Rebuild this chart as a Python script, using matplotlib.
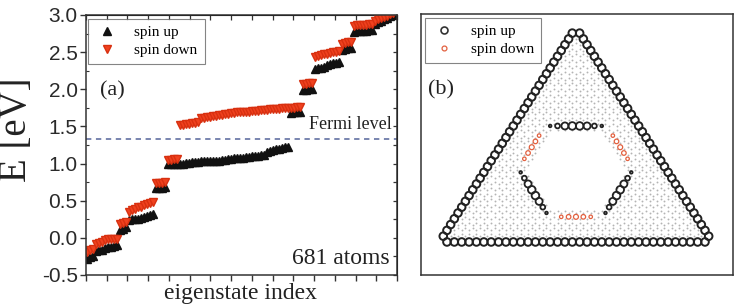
import numpy as np
import matplotlib
matplotlib.use("Agg")
import matplotlib.pyplot as plt
from matplotlib.lines import Line2D

# ---- panel (a): eigenvalues near the Fermi level ----
spin_up = [-0.28, -0.26, -0.24,
           -0.18, -0.17, -0.16,
           -0.13, -0.12, -0.12, -0.11, -0.10,
           0.10, 0.12, 0.15,
           0.24, 0.25, 0.25, 0.26, 0.27, 0.28,
           0.30, 0.31, 0.32,
           0.67, 0.67, 0.67, 0.68,
           0.99, 0.99, 1.00, 1.00,
           1.00, 1.00, 1.01, 1.01, 1.02, 1.02, 1.02, 1.03, 1.03, 1.03,
           1.03, 1.04, 1.04, 1.04, 1.05, 1.05, 1.06, 1.06, 1.07, 1.07,
           1.08, 1.08, 1.09, 1.09, 1.10, 1.10, 1.10, 1.11, 1.11,
           1.16, 1.17, 1.18, 1.19, 1.20, 1.21, 1.22, 1.22,
           1.68, 1.69, 1.69, 1.70,
           1.99, 1.99, 2.00, 2.00,
           2.27, 2.28, 2.29, 2.30,
           2.33, 2.34, 2.35, 2.36, 2.37,
           2.53, 2.54, 2.55, 2.56,
           2.77, 2.78, 2.78, 2.79, 2.79, 2.80, 2.80,
           2.88, 2.90, 2.92, 2.94, 2.96, 2.98, 3.00, 3.02]
spin_down = [-0.19, -0.17, -0.15,
             -0.08, -0.07, -0.06,
             -0.03, -0.02, -0.02, -0.01, -0.01,
             0.19, 0.20, 0.22,
             0.35, 0.37, 0.39, 0.41, 0.42, 0.44,
             0.46, 0.47, 0.48,
             0.74, 0.74, 0.74, 0.75,
             1.05, 1.05, 1.06, 1.06,
             1.52, 1.52, 1.53, 1.53, 1.54, 1.55, 1.56, 1.62, 1.62, 1.63,
             1.63, 1.64, 1.64, 1.65, 1.66, 1.67, 1.67, 1.68, 1.68, 1.69,
             1.69, 1.70, 1.70, 1.70, 1.71, 1.71, 1.71, 1.72, 1.72,
             1.72, 1.73, 1.73, 1.74, 1.74, 1.75, 1.75, 1.75,
             1.75, 1.75, 1.76, 1.76,
             2.07, 2.07, 2.08, 2.08,
             2.44, 2.45, 2.46, 2.47,
             2.48, 2.49, 2.50, 2.50, 2.51,
             2.61, 2.62, 2.63, 2.64,
             2.85, 2.86, 2.86, 2.87, 2.87, 2.88, 2.88,
             2.92, 2.94, 2.96, 2.97, 2.99, 3.01, 3.03, 3.05]
fermi_level = 1.326
n_atoms_label = "681 atoms"

# ---- panel (b): spin density on the triangular flake ----
n_side = 38                   # B sites per edge before the corners are cut
ring_row = 20                 # B row holding the top (spin up) side of the inner ring
ring_up_x = [15, 16, 17, 18, 19, 20, 21, 22]
ring_up_w = [0.12, 0.4, 0.85, 1.0, 1.0, 0.85, 0.4, 0.12]
ring_dn_row = 4               # A row holding the bottom (spin down) side
ring_dn_x = [16.5, 17.5, 18.5, 19.5, 20.5]
ring_dn_w = [0.35, 0.6, 0.7, 0.6, 0.35]

RED = "#f0421f"
DARK = "#222222"
serif = ["Liberation Serif", "DejaVu Serif"]
sans = ["Liberation Sans", "DejaVu Sans"]

fig = plt.figure(figsize=(7.36, 3.06), dpi=100)

# ===== (a) =====
ax = fig.add_axes([86/736, 31/306, 311/736, 260/306])
idx = np.arange(len(spin_up))
ax.plot(idx, spin_up, ls="none", marker="^", ms=5.3, color="#111111", label="spin up")
ax.plot(idx, spin_down, ls="none", marker="v", ms=5.3, color=RED, mec="#d83010", label="spin down")
ax.axhline(fermi_level, color="#55659a", lw=1.1, dashes=(3.5, 3))

x0, x1 = -0.33, 103.33
ax.set_xlim(x0, x1)
ax.set_ylim(-0.5, 3.0)
ax.set_yticks(np.arange(-0.5, 3.01, 0.5))
ax.set_yticklabels(["%.1f" % v for v in np.arange(-0.5, 3.01, 0.5)],
                   family=sans, fontsize=15, color="#2a2a2a")
ax.set_yticks(np.arange(-0.25, 3.0, 0.5), minor=True)
ax.set_xticks(np.linspace(x0, x1, 16))
ax.set_xticklabels([])
ax.tick_params(axis="y", which="major", direction="out", length=4, width=1, color="#333", pad=2)
ax.tick_params(axis="y", which="minor", direction="in", length=2.5, width=0.8, color="#333")
ax.tick_params(axis="x", which="major", direction="out", length=4.5, width=1, color="#333")
for s in ax.spines.values():
    s.set_color("#333333")
    s.set_linewidth(1.1)

ry = ax.secondary_yaxis("right")
ry.set_yticks(np.arange(-0.5, 3.01, 0.25))
ry.set_yticklabels([])
ry.tick_params(direction="in", length=3, width=0.9, color="#333")
tx = ax.secondary_xaxis("top")
tx.set_xticks(np.linspace(x0, x1, 16))
tx.set_xticklabels([])
tx.tick_params(direction="in", length=3.5, width=0.9, color="#333")

leg = ax.legend(loc="upper left", bbox_to_anchor=(0.006, 0.985), prop={"family": serif, "size": 11},
                fancybox=False, edgecolor="#666", handlelength=1.6, handletextpad=1.0,
                borderpad=0.45, labelspacing=0.25, borderaxespad=0)
leg.get_frame().set_linewidth(0.8)

ax.text(0.045, 0.71, "(a)", transform=ax.transAxes, family=serif, fontsize=16, va="center", color="#222")
ax.text(0.984, 0.577, "Fermi level", transform=ax.transAxes, family=serif, fontsize=13,
        ha="right", va="center", color="#222")
ax.text(0.977, 0.065, n_atoms_label, transform=ax.transAxes, family=serif, fontsize=17,
        ha="right", va="center", color="#222")

fig.text(17/736, 0.575, "E [eV]", rotation=90, family=serif, fontsize=28, ha="center", va="center", color="#222")
fig.text(241/736, 0.006, "eigenstate index", family=serif, fontsize=17, ha="center", va="bottom", color="#222")

# ===== (b) =====
bx = fig.add_axes([421/736, 31/306, 312/736, 261/306])
s3 = np.sqrt(3)
corners = {(0, 0), (0, n_side - 1), (n_side - 1, 0)}
edge_pts, bulk_pts = [], []
for k in range(n_side):
    for j in range(n_side - k):
        if (k, j) in corners:
            continue
        p = (k / 2 + j, k * s3 / 2)
        if k == 0 or j == 0 or j == n_side - 1 - k:
            edge_pts.append(p)
        else:
            bulk_pts.append(p)
for k in range(n_side - 1):
    for j in range(n_side - 1 - k):
        bulk_pts.append((k / 2 + j + 0.5, k * s3 / 2 + 1 / (2 * s3)))
edge_pts = np.array(edge_pts)
bulk_pts = np.array(bulk_pts)

# centre of the flake
cx = (n_side - 1) / 2
cy = (n_side - 1) * s3 / 6


def rot(pts, ang):
    a = np.deg2rad(ang)
    d = pts - [cx, cy]
    return np.c_[cx + d[:, 0] * np.cos(a) - d[:, 1] * np.sin(a),
                 cy + d[:, 0] * np.sin(a) + d[:, 1] * np.cos(a)]


up_side = np.c_[ring_up_x, np.full(len(ring_up_x), ring_row * s3 / 2)]
dn_side = np.c_[ring_dn_x, np.full(len(ring_dn_x), ring_dn_row * s3 / 2 + 1 / (2 * s3))]
up_ring = np.vstack([up_side, rot(up_side, 120), rot(up_side, -120)])
up_w = np.array(ring_up_w * 3)
dn_ring = np.vstack([dn_side, rot(dn_side, 120), rot(dn_side, -120)])
dn_w = np.array(ring_dn_w * 3)

# hide the bulk sites inside the ring and under the ring markers
d = bulk_pts - [cx, cy]
hexd = np.max(np.abs(np.c_[d[:, 1], d[:, 0] * s3 / 2 + d[:, 1] / 2, d[:, 0] * s3 / 2 - d[:, 1] / 2]), axis=1)
keep = hexd > 6.0
ring_all = np.vstack([up_ring, dn_ring])
for p in ring_all:
    keep &= np.hypot(bulk_pts[:, 0] - p[0], bulk_pts[:, 1] - p[1]) > 0.2

bx.scatter(bulk_pts[keep, 0], bulk_pts[keep, 1], s=1.8, color="#b4b4b4", lw=0)
bx.scatter(edge_pts[:, 0], edge_pts[:, 1], s=30, facecolors="none", edgecolors=DARK, linewidths=1.4)
bx.scatter(up_ring[:, 0], up_ring[:, 1], s=30 * up_w, facecolors="none", edgecolors=DARK, linewidths=1.3)
bx.scatter(dn_ring[:, 0], dn_ring[:, 1], s=18 * dn_w, facecolors="none", edgecolors="#e2603f", linewidths=0.9)

bx.set_xlim(-2.52, 39.8)
bx.set_ylim(-4.93, 34.03)
bx.set_xticks([])
bx.set_yticks([])
for s in bx.spines.values():
    s.set_color("#333333")
    s.set_linewidth(1.1)

handles = [Line2D([], [], ls="none", marker="o", ms=5, mfc="none", mec="#333", mew=1.2),
           Line2D([], [], ls="none", marker="o", ms=3.5, mfc="none", mec="#e2603f", mew=0.9)]
leg2 = bx.legend(handles, ["spin up", "spin down"], loc="upper left", bbox_to_anchor=(0.012, 0.985),
                 prop={"family": serif, "size": 11}, fancybox=False, edgecolor="#666",
                 handlelength=1.6, handletextpad=1.0, borderpad=0.45, labelspacing=0.25, borderaxespad=0)
leg2.get_frame().set_linewidth(0.8)
bx.text(0.022, 0.709, "(b)", transform=bx.transAxes, family=serif, fontsize=16, va="center", color="#222")

fig.savefig("out.png", dpi=100)
